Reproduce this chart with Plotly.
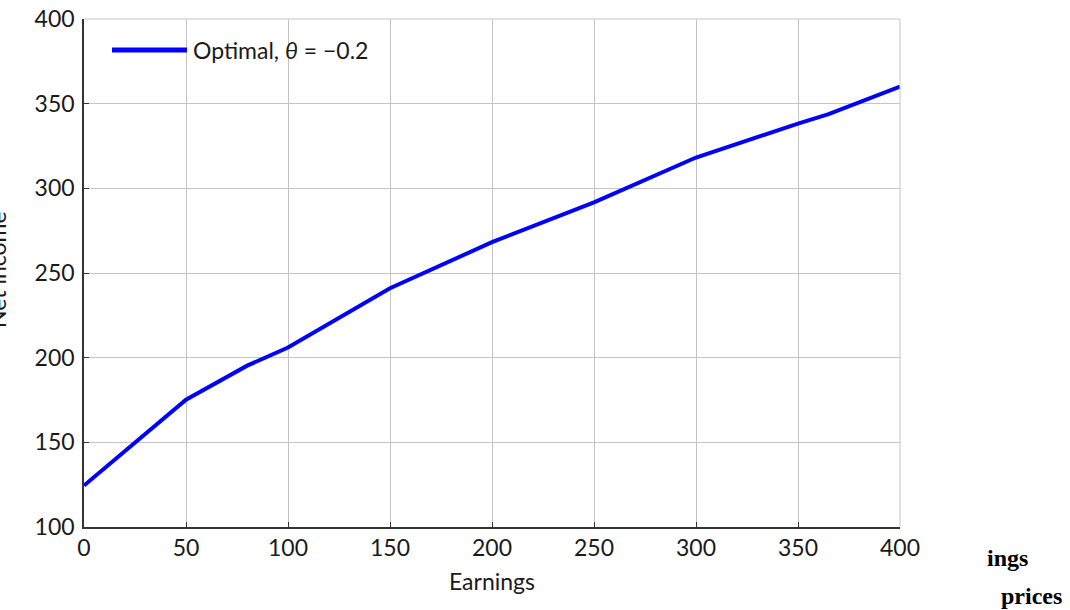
import plotly.graph_objects as go

earnings = [0, 50, 80, 100, 150, 200, 250, 300, 350, 365, 400]
net_income = [124.5, 175.2, 195.3, 206.0, 241.0, 268.2, 291.7, 318.2, 338.2, 343.8, 360.0]
x_ticks = [0, 50, 100, 150, 200, 250, 300, 350, 400]
y_ticks = [100, 150, 200, 250, 300, 350, 400]
legend_label = "Optimal, <i>θ</i> = −0.2"

FONT = "Lato"
FS = 23
fig = go.Figure()
fig.add_trace(go.Scatter(x=earnings, y=net_income, mode="lines",
                         line=dict(color="#0000ff", width=4), name="Optimal",
                         showlegend=False))

fig.update_layout(
    width=1070, height=610,
    margin=dict(l=84, r=170, t=19, b=83),
    paper_bgcolor="white", plot_bgcolor="white",
    font=dict(family=FONT, size=FS, color="#1a1a1a"),
    xaxis=dict(range=[0, 400], tickvals=x_ticks, showgrid=True, gridcolor="#c4c4c4",
               gridwidth=1, showline=True, linecolor="#333333", linewidth=1.5,
               ticks="inside", ticklen=5, tickcolor="#333333", mirror=False,
               automargin=False, zeroline=False,
               title=dict(text="Earnings", standoff=14, font=dict(family=FONT, size=FS))),
    yaxis=dict(range=[100, 400], tickvals=y_ticks, showgrid=True, gridcolor="#c4c4c4",
               gridwidth=1, showline=True, linecolor="#333333", linewidth=1.5,
               ticks="inside", ticklen=5, tickcolor="#333333", zeroline=False,
               automargin=False, ticklabelstandoff=3),
)

# top / right frame in grid colour
fig.add_shape(type="line", xref="paper", yref="paper", x0=0, x1=1, y0=1, y1=1,
              line=dict(color="#c4c4c4", width=1))
fig.add_shape(type="line", xref="paper", yref="paper", x0=1, x1=1, y0=0, y1=1,
              line=dict(color="#c4c4c4", width=1))

# legend sample line and label
fig.add_shape(type="line", xref="paper", yref="paper",
              x0=(112 - 84) / 816, x1=(187 - 84) / 816,
              y0=(527 - 50) / 508, y1=(527 - 50) / 508,
              line=dict(color="#0000ff", width=5))
fig.add_annotation(xref="paper", yref="paper", x=(191 - 84) / 816, y=(527 - 50) / 508,
                   text=legend_label, showarrow=False, xanchor="left", yanchor="middle",
                   font=dict(family=FONT, size=FS, color="#1a1a1a"))

# y-axis title, mostly cut off at the left edge (as in the reference)
fig.add_annotation(xref="paper", yref="paper", x=(-3 - 84) / 816, y=(527 - 270) / 508,
                   text="Net income", textangle=-90, showarrow=False,
                   xanchor="center", yanchor="middle",
                   font=dict(family=FONT, size=FS, color="#1a1a1a"))

# stray caption fragments at bottom right
fig.add_annotation(xref="paper", yref="paper", x=(985 - 84) / 816, y=(527 - 558) / 508,
                   text="<b>ings</b>", showarrow=False, xanchor="left", yanchor="middle",
                   font=dict(family="Liberation Serif", size=24, color="black"))
fig.add_annotation(xref="paper", yref="paper", x=(999 - 84) / 816, y=(527 - 596) / 508,
                   text="<b>prices</b>", showarrow=False, xanchor="left", yanchor="middle",
                   font=dict(family="Liberation Serif", size=24, color="black"))

fig.write_html("out.html")
